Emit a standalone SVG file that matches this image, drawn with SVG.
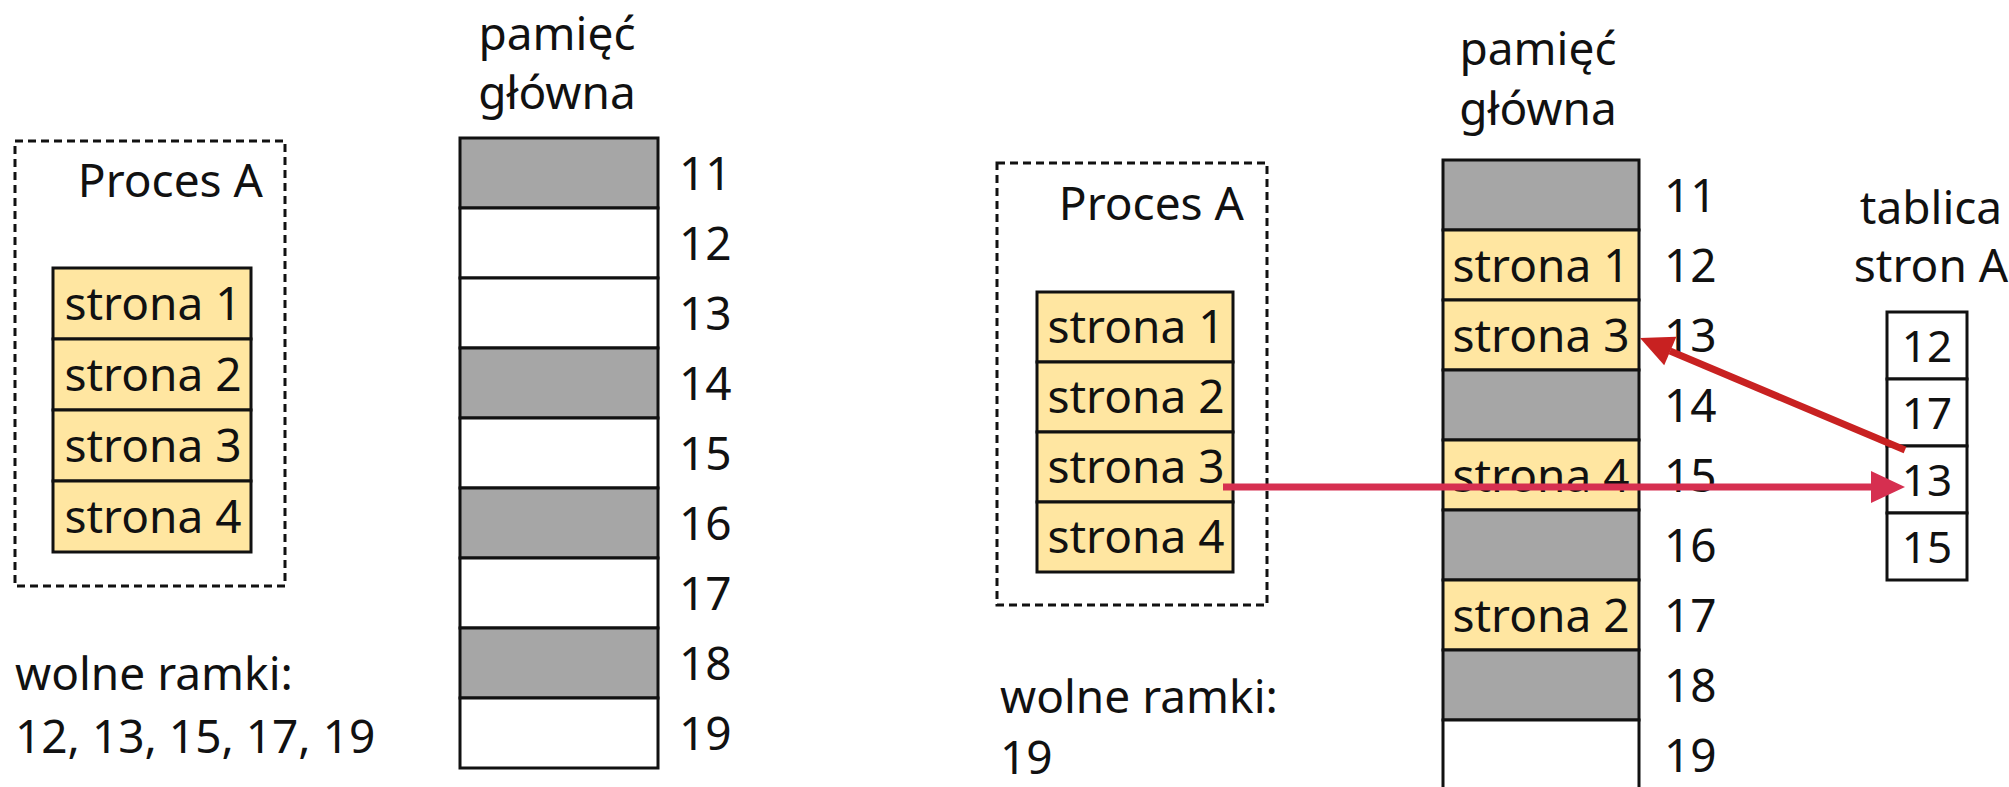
<svg xmlns="http://www.w3.org/2000/svg" width="2009" height="787" viewBox="0 0 2009 787">
<style>
text{font-family:"Noto Sans","Open Sans","DejaVu Sans",sans-serif;font-size:46px;fill:#111;}
.c{text-anchor:middle;}
.r{text-anchor:end;}
.y{fill:#FFE6A1;stroke:#111;stroke-width:3;}
.g{fill:#A6A6A6;stroke:#111;stroke-width:3;}
.w{fill:#fff;stroke:#111;stroke-width:3;}
.d{fill:none;stroke:#111;stroke-width:3;stroke-dasharray:8 5;}
.t{font-size:44px;}
</style>
<rect width="2009" height="787" fill="#fff"/>

<!-- LEFT PANEL -->
<g id="procesA-left">
<rect class="d" x="15" y="141" width="270" height="445"/>
<text class="r" x="263" y="197">Proces A</text>
</g>
<g id="pages-left">
<rect class="y" x="53" y="268" width="198" height="71"/>
<rect class="y" x="53" y="339" width="198" height="71"/>
<rect class="y" x="53" y="410" width="198" height="71"/>
<rect class="y" x="53" y="481" width="198" height="71"/>
<text class="c" x="153" y="320">strona 1</text>
<text class="c" x="153" y="391">strona 2</text>
<text class="c" x="153" y="462">strona 3</text>
<text class="c" x="153" y="533">strona 4</text>
</g>
<g id="free-left">
<text x="15" y="690">wolne ramki:</text>
<text x="15" y="753">12, 13, 15, 17, 19</text>
</g>
<g id="memory-left">
<text class="c" x="557" y="50">pamięć</text>
<text class="c" x="557" y="109">główna</text>
<rect class="g" x="460" y="138" width="198" height="70"/>
<rect class="w" x="460" y="208" width="198" height="70"/>
<rect class="w" x="460" y="278" width="198" height="70"/>
<rect class="g" x="460" y="348" width="198" height="70"/>
<rect class="w" x="460" y="418" width="198" height="70"/>
<rect class="g" x="460" y="488" width="198" height="70"/>
<rect class="w" x="460" y="558" width="198" height="70"/>
<rect class="g" x="460" y="628" width="198" height="70"/>
<rect class="w" x="460" y="698" width="198" height="70"/>
<text x="679" y="190">11</text>
<text x="679" y="260">12</text>
<text x="679" y="330">13</text>
<text x="679" y="400">14</text>
<text x="679" y="470">15</text>
<text x="679" y="540">16</text>
<text x="679" y="610">17</text>
<text x="679" y="680">18</text>
<text x="679" y="750">19</text>
</g>

<!-- RIGHT PANEL -->
<g id="procesA-right">
<rect class="d" x="997" y="163" width="270" height="442"/>
<text class="r" x="1244" y="220">Proces A</text>
</g>
<g id="pages-right">
<rect class="y" x="1037" y="292" width="196" height="70"/>
<rect class="y" x="1037" y="362" width="196" height="70"/>
<rect class="y" x="1037" y="432" width="196" height="70"/>
<rect class="y" x="1037" y="502" width="196" height="70"/>
<text class="c" x="1136" y="343">strona 1</text>
<text class="c" x="1136" y="413">strona 2</text>
<text class="c" x="1136" y="483">strona 3</text>
<text class="c" x="1136" y="553">strona 4</text>
</g>
<g id="free-right">
<text x="1000" y="713">wolne ramki:</text>
<text x="1000" y="774">19</text>
</g>
<g id="memory-right">
<text class="c" x="1538" y="65">pamięć</text>
<text class="c" x="1538" y="125">główna</text>
<rect class="g" x="1443" y="160" width="196" height="70"/>
<rect class="y" x="1443" y="230" width="196" height="70"/>
<rect class="y" x="1443" y="300" width="196" height="70"/>
<rect class="g" x="1443" y="370" width="196" height="70"/>
<rect class="y" x="1443" y="440" width="196" height="70"/>
<rect class="g" x="1443" y="510" width="196" height="70"/>
<rect class="y" x="1443" y="580" width="196" height="70"/>
<rect class="g" x="1443" y="650" width="196" height="70"/>
<rect class="w" x="1443" y="720" width="196" height="75"/>
<text class="c" x="1541" y="282">strona 1</text>
<text class="c" x="1541" y="352">strona 3</text>
<text class="c" x="1541" y="492">strona 4</text>
<text class="c" x="1541" y="632">strona 2</text>
<text x="1664" y="212">11</text>
<text x="1664" y="282">12</text>
<text x="1664" y="352">13</text>
<text x="1664" y="422">14</text>
<text x="1664" y="492">15</text>
<text x="1664" y="562">16</text>
<text x="1664" y="632">17</text>
<text x="1664" y="702">18</text>
<text x="1664" y="772">19</text>
</g>
<g id="page-table">
<text class="c" x="1931" y="224">tablica</text>
<text class="c" x="1931" y="282">stron A</text>
<rect class="w" x="1887" y="312" width="80" height="67"/>
<rect class="w" x="1887" y="379" width="80" height="67"/>
<rect class="w" x="1887" y="446" width="80" height="67"/>
<rect class="w" x="1887" y="513" width="80" height="67"/>
<text class="c t" x="1927" y="362">12</text>
<text class="c t" x="1927" y="429">17</text>
<text class="c t" x="1927" y="496">13</text>
<text class="c t" x="1927" y="563">15</text>
</g>

<g id="connectors">
<line x1="1223" y1="487" x2="1873" y2="487" stroke="#D62F50" stroke-width="7"/>
<polygon points="1905,487 1871,471 1871,503" fill="#D62F50"/>
<line x1="1905" y1="450" x2="1670" y2="351" stroke="#C82121" stroke-width="7"/>
<polygon points="1640,338 1676.4,336.8 1664.2,365.3" fill="#C82121"/>
</g>
</svg>
